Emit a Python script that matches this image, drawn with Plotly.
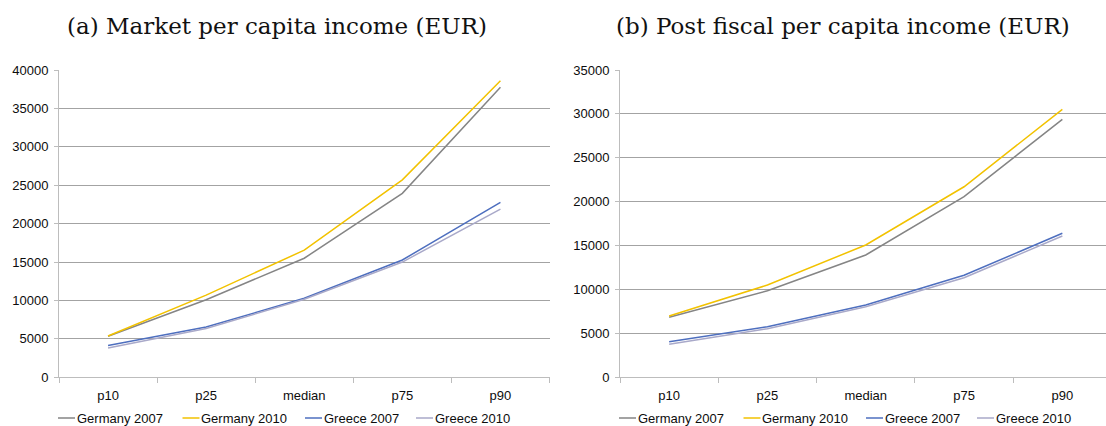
import plotly.graph_objects as go

# Income distribution points
categories = ["p10", "p25", "median", "p75", "p90"]
series_names = ["Germany 2007", "Germany 2010", "Greece 2007", "Greece 2010"]

market_germany_2007 = [5350, 10100, 15500, 23950, 37750]
market_germany_2010 = [5380, 10700, 16550, 25700, 38600]
market_greece_2007 = [4150, 6550, 10280, 15270, 22780]
market_greece_2010 = [3820, 6350, 10150, 15000, 21900]

post_germany_2007 = [6830, 9860, 13930, 20570, 29380]
post_germany_2010 = [6980, 10510, 15070, 21700, 30520]
post_greece_2007 = [4050, 5760, 8230, 11620, 16400]
post_greece_2010 = [3760, 5530, 8040, 11340, 16090]

market_series = [market_germany_2007, market_germany_2010, market_greece_2007, market_greece_2010]
post_series = [post_germany_2007, post_germany_2010, post_greece_2007, post_greece_2010]

colors = ["#858585", "#f2c200", "#4e6fbf", "#a9a9c9"]

W, H = 1106, 426
fig = go.Figure()

for vals, name, col in zip(market_series, series_names, colors):
    fig.add_trace(go.Scatter(x=categories, y=vals, mode="lines", name=name,
                             line=dict(color=col, width=1.5),
                             xaxis="x", yaxis="y", showlegend=False))
for vals, name, col in zip(post_series, series_names, colors):
    fig.add_trace(go.Scatter(x=categories, y=vals, mode="lines", name=name,
                             line=dict(color=col, width=1.5),
                             xaxis="x2", yaxis="y2", showlegend=False))

y_top, y_bot = 70, 377.3
ydom = [1 - y_bot / H, 1 - y_top / H]
left_dom = [59 / W, 549.5 / W]
right_dom = [620 / W, 1.0]

tick_font = dict(family="Liberation Sans, Arial, sans-serif", size=13, color="#0d0d0d")
axis_col = "#bdbdbd"
grid_col = "#a3a3a3"

xcommon = dict(type="category", tickson="boundaries", ticks="outside", ticklen=5,
               tickcolor=axis_col, showline=True, linecolor=axis_col, linewidth=1,
               showgrid=False, tickfont=tick_font, zeroline=False, automargin=False,
               ticklabelstandoff=6)
ycommon = dict(dtick=5000, tickformat="d", ticks="outside", ticklen=4, tickcolor=axis_col,
               showline=True, linecolor=axis_col, linewidth=1,
               showgrid=True, gridcolor=grid_col, gridwidth=1,
               tickfont=tick_font, zeroline=False, domain=ydom, automargin=False,
               ticklabelstandoff=3)

fig.update_layout(
    width=W, height=H,
    margin=dict(l=0, r=0, t=0, b=0, autoexpand=False),
    paper_bgcolor="white", plot_bgcolor="white",
    xaxis=dict(domain=left_dom, anchor="y", range=[-0.5, 4.5], **xcommon),
    yaxis=dict(anchor="x", range=[0, 40000], **ycommon),
    xaxis2=dict(domain=right_dom, anchor="y2",
                range=[-0.5, -0.5 + (W - 620) / 98.3], **xcommon),
    yaxis2=dict(anchor="x2", range=[0, 35000], **ycommon),
)

title_font = dict(family="DejaVu Serif, serif", size=23, color="#111111")
fig.add_annotation(text="(a) Market per capita income (EUR)", x=277 / W, y=1 - 26 / H,
                   xref="paper", yref="paper", xanchor="center", yanchor="middle",
                   showarrow=False, font=title_font)
fig.add_annotation(text="(b) Post fiscal per capita income (EUR)", x=843 / W, y=1 - 26 / H,
                   xref="paper", yref="paper", xanchor="center", yanchor="middle",
                   showarrow=False, font=title_font)

# Legends below each panel
legend_y = 418
legend_font = dict(family="Liberation Sans, Arial, sans-serif", size=13, color="#0d0d0d")
for start, offsets in [(58, [0, 124.5, 247, 358]), (619, [0, 124.5, 247, 358])]:
    for off, name, col in zip(offsets, series_names, colors):
        x0 = start + off
        fig.add_shape(type="line", xref="paper", yref="paper",
                      x0=x0 / W, x1=(x0 + 17) / W, y0=1 - legend_y / H, y1=1 - legend_y / H,
                      line=dict(color=col, width=1.5))
        fig.add_annotation(text=name, x=(x0 + 17.5) / W, y=1 - legend_y / H,
                           xref="paper", yref="paper", xanchor="left", yanchor="middle",
                           showarrow=False, font=legend_font, xshift=-1)

fig.write_html("out.html")
